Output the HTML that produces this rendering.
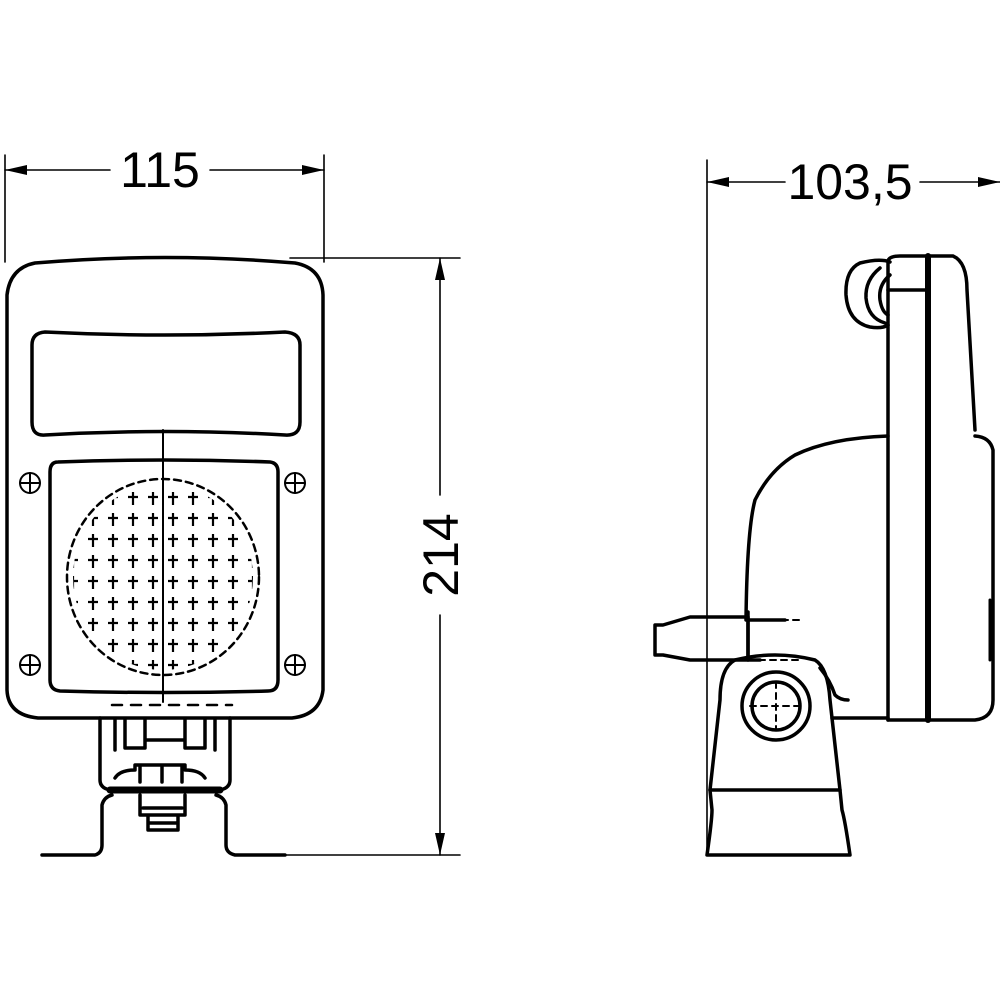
<!DOCTYPE html>
<html><head><style>html,body{margin:0;padding:0;background:#fff}svg{display:block}</style></head>
<body>
<svg width="1000" height="1000" viewBox="0 0 1000 1000" xmlns="http://www.w3.org/2000/svg">
<defs>
<pattern id="cr" x="3" y="5" width="20" height="21" patternUnits="userSpaceOnUse">
<path d="M10 4V17M5 9H15" stroke="#000" stroke-width="2.2" fill="none"/>
</pattern>
<clipPath id="el"><ellipse cx="163" cy="577" rx="90" ry="93"/></clipPath>
</defs>
<g fill="none" stroke="#000" stroke-linecap="round" stroke-linejoin="round">
<!-- front dimensions -->
<g stroke-width="1.6">
<line x1="5" y1="155" x2="5" y2="262"/>
<line x1="324" y1="155" x2="324" y2="262"/>
<line x1="5" y1="170" x2="110" y2="170"/>
<line x1="210" y1="170" x2="324" y2="170"/>
<line x1="290" y1="258" x2="460" y2="258"/>
<line x1="285" y1="855" x2="460" y2="855"/>
<line x1="440" y1="258" x2="440" y2="495"/>
<line x1="440" y1="615" x2="440" y2="855"/>
<line x1="707" y1="160" x2="707" y2="855"/>
<line x1="707" y1="182" x2="785" y2="182"/>
<line x1="920" y1="182" x2="1000" y2="182"/>
</g>
<g fill="#000" stroke="none">
<path d="M5 170l22-5v10z"/><path d="M324 170l-22-5v10z"/>
<path d="M440 258l-5 22h10z"/><path d="M440 855l-5-22h10z"/>
<path d="M707 182l22-5v10z"/><path d="M1000 182l-22-5v10z"/>
</g>
<!-- front body -->
<g stroke-width="3.5">
<path d="M35 263Q165 252 295 263Q322 268 323 295V690Q320 715 292 718H38Q8 715 7 690V295Q10 268 35 263Z"/>
<path d="M45 332Q165 338 285 332Q300 333 300 345V422Q300 436 285 435Q165 428 45 435Q32 436 32 422V345Q32 333 45 332Z"/>
<path d="M58 462Q165 458 270 462Q278 463 278 472V680Q278 691 268 691Q165 694 60 691Q50 690 50 680V472Q50 462 58 462Z"/>
</g>
<g stroke-width="2">
<circle cx="30" cy="483" r="10"/><path d="M20 483H40M30 473V493"/>
<circle cx="295" cy="483" r="10"/><path d="M285 483H305M295 473V493"/>
<circle cx="30" cy="665" r="10"/><path d="M20 665H40M30 655V675"/>
<circle cx="295" cy="665" r="10"/><path d="M285 665H305M295 655V675"/>
<line x1="163" y1="430" x2="163" y2="702"/>
<line x1="112" y1="705" x2="232" y2="705" stroke-dasharray="10 9" stroke-width="2.5"/>
</g>
<ellipse cx="163" cy="577" rx="96" ry="98" stroke-width="2.5" stroke-dasharray="7 5"/>
<rect x="60" y="470" width="210" height="210" fill="url(#cr)" stroke="none" clip-path="url(#el)"/>
<!-- front bracket -->
<g stroke-width="3.5">
<path d="M100 718V780Q100 788 110 790H220Q230 788 230 780V718"/>
<path d="M115 720V750M125 720V748H145V720M185 720V748H205V720M215 720V750M145 740H185"/>
<path d="M115 778Q120 770 135 770V765H185V770Q200 770 205 778"/>
<path d="M140 766V782M162 766V782M182 766V782"/>
<path d="M110 790H220" stroke-width="7"/>
<path d="M140 795V815H185V795M143 808H182M148 815V830H178V815M150 823H176"/>
<path d="M42 855H95Q102 853 102 845V805Q104 797 112 795"/>
<path d="M285 855H235Q226 853 226 845V805Q224 797 216 795"/>
</g>
<!-- side view -->
<g stroke-width="3.5">
<path d="M888 720V262Q888 256 900 256H953Q967 262 967 290L975 430"/>
<line x1="928" y1="256" x2="928" y2="720" stroke-width="6"/>
<path d="M888 720H975Q993 718 993 700V450Q990 437 975 436"/>
<path d="M888 290H928"/>
<path d="M888 436Q830 438 795 455Q770 470 755 500Q747 530 746 620"/>
<path d="M888 718H832"/>
<path d="M890 262Q880 258 860 263Q845 270 846 295Q848 322 870 327Q882 329 888 325"/>
<path d="M880 268Q865 280 866 298Q868 318 885 323"/>
<path d="M890 275Q878 285 880 300Q882 312 888 315"/>
<path d="M655 625H663L690 617H748V660H690L663 655H655Z"/>
<path d="M748 612V660H760"/>
<path d="M748 620H785" />
<path d="M735 660Q720 668 720 700L710 790H840L830 700Q828 668 815 660Q775 650 735 660Z"/>
<path d="M820 668Q830 680 835 695Q840 700 848 700"/>
<circle cx="776" cy="706" r="34"/>
<circle cx="776" cy="706" r="24"/>
<path d="M710 790L712 810Q712 820 707 855H850Q845 820 842 810L840 790"/>
</g>
<g stroke-width="2" stroke-dasharray="6 5">
<path d="M760 620H800M748 660H800M750 706H802M776 682V730"/>
</g>
<path d="M990 600V660" stroke-width="3"/>
</g>
<g font-family="Liberation Sans, sans-serif" font-size="50" fill="#000">
<text x="160" y="187" text-anchor="middle">115</text>
<text x="850" y="199" text-anchor="middle">103,5</text>
<text transform="translate(458,555) rotate(-90)" text-anchor="middle">214</text>
</g>
</svg>
</body></html>
